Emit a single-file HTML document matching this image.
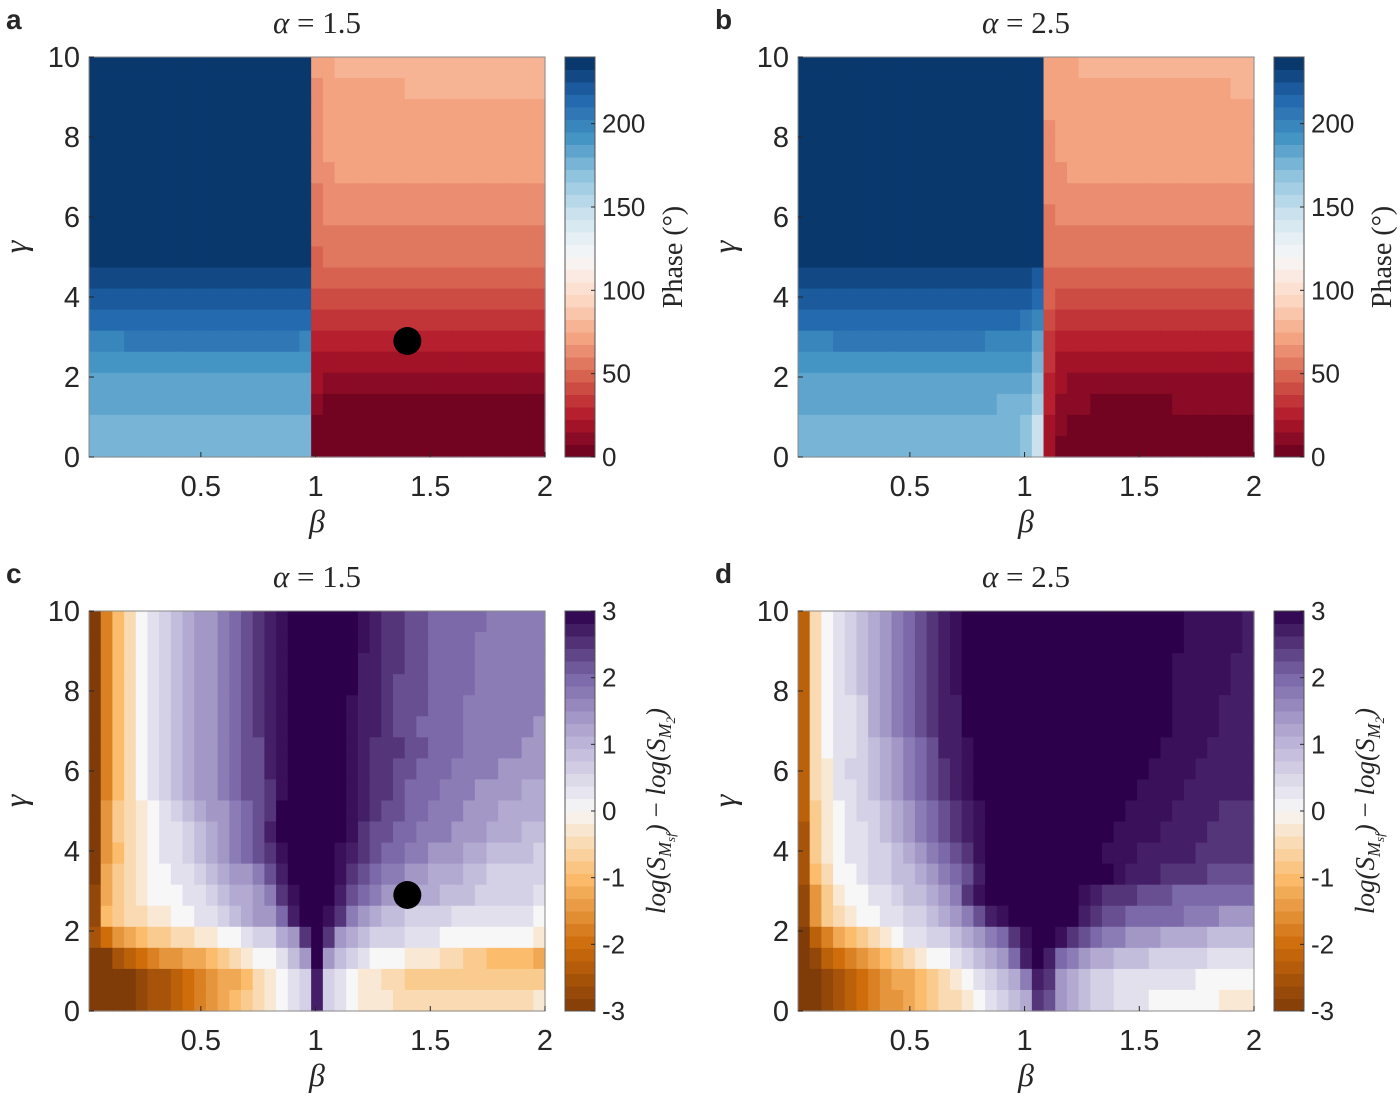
<!DOCTYPE html>
<html><head><meta charset="utf-8">
<style>
html,body{margin:0;padding:0;background:#fff;}
svg{display:block;}
text{font-family:"Liberation Sans",sans-serif;fill:#262626;}
.serif{font-family:"Liberation Serif",serif;}
</style></head>
<body>
<svg id="fig" width="1400" height="1102" viewBox="0 0 1400 1102" xmlns="http://www.w3.org/2000/svg"></svg>
<script>
// ---- data (rows top = gamma 10, bottom = gamma 0; 39 beta columns) ----
const phaseLevels = "0123456789ABCDEFGHIJKLMNOPQRSTUV";
const phaseA = [
"V*19 9*2 A*18","V*19 8*1 9*7 A*12","V*19 8*1 9*19","V*19 8*1 9*19","V*19 8*1 9*19",
"V*19 8*2 9*18","V*19 7*1 8*19","V*19 7*1 8*19","V*19 7*20","V*19 6*1 7*19",
"U*19 6*20","T*19 5*20","S*19 4*20","Q*3 R*15 Q*1 3*20","P*19 2*20",
"O*19 2*1 1*19","O*19 1*1 0*19","N*19 0*20","N*19 0*20"];
const phaseB = [
"V*21 9*3 A*15","V*21 9*16 A*2","V*21 9*18","V*21 8*1 9*17","V*21 8*1 9*17",
"V*21 8*2 9*16","V*21 8*18","V*21 7*1 8*17","V*21 7*18","V*21 7*18",
"U*20 T*1 6*18","T*20 S*1 6*1 5*17","S*19 R*1 Q*1 5*1 4*17","Q*3 R*13 Q*4 O*1 4*1 3*17","P*20 N*1 4*1 2*17",
"O*20 M*1 3*1 2*1 1*16","O*17 N*3 L*1 3*1 1*3 0*7 1*7","N*19 M*1 J*1 2*1 1*1 0*16","N*19 M*1 J*1 2*1 0*17"];
// Ratio panels: each letter is a level, values in ratioLetterValues
const ratioLevels = "ABCDEFGHIJKLMNOPQRSTUVWXY";
const ratioLetterValues = [-3,-2.75,-2.5,-2.25,-2,-1.75,-1.5,-1.25,-1,-0.75,-0.5,-0.25,0,0.35,0.6,0.9,1.15,1.4,1.75,2.0,2.25,2.5,2.7,2.85,3];
const ratioC = [
"AFIKMNOPQRRSTUVWXYYYYYYXWVVUUTTTTTSSSSS",
"AFIKMNOPQRRSTUVWXYYYYYYXWVVUUTTTTSSSSSS",
"AFIKMNOPQRRSTUVWXYYYYYYWWVVUUTTTTSSSSSS",
"AFIKMNOPQRRSTUVWXYYYYYYWWVUUUTTTTSSSSSS",
"AFIKMNOPQRRSTUVWXYYYYYXWWVUUUTTTSSSSSSS",
"AFIKMNOPQRRSTUVWXYYYYYXWWVUUTTTTSSSSSSR",
"AFIKMNOPQRRSTUUWXYYYYYXWVVVUUTTTSSSSSRR",
"AFIKMNOPQRRSTUUWXYYYYYXWVVUUTTTSSSSRRRR",
"AFIKMNOPQRRSTUUVXYYYYYXWVVUTTTSSSRRRRQQ",
"AGJKLMNOPQRRSTUVYYYYYYXWVUUTTSSSRRRQQQQ",
"AGJKLMNNOPQRSTUWYYYYYYXVUUTTSSSRRRQQQPP",
"AGIKLMNNOPQRSTUVXYYYYXWVUTTSSRRRQQPPPPO",
"AHJKLMMNNOPQRRSUWYYYYXVUTSSRRQQQPPOOOOO",
"BHJKLMMMNNOPQQRSVXYYYWUTSRRQQQPPPOOOOON",
"BIJKKLLMMNNOPQRRTWYYXVSRQPPOOOONNNNNNNM",
"CEGHIJJKKLLMMNOOQRVYVRQPOOONNNMMMMMMMML",
"AACDEFGGHHIJKLMMNPRYRPONMMMLLLKKJJIIIIH",
"AAAABCCDEFGHHIKLMNOWONMLLKKJJJJJJJJJJJJ",
"AAAABCCDEFGHIJKLMNOWONMLLLKKKKKKKKKKKKL"];
const ratioD = [
"DKMNOPQRSTUVWXYYYYYYYYYYYYYYYYYYYXXXXXW",
"DKMNOPQRSTUVWXYYYYYYYYYYYYYYYYYYYXXXXXW",
"DKMNOPQRSTUVWXYYYYYYYYYYYYYYYYYYXXXXXWW",
"DKMNOPQRSTUVWXYYYYYYYYYYYYYYYYYYXXXXXWW",
"DKMNNOQRSTUVWWYYYYYYYYYYYYYYYYYYXXXXWWW",
"DKMNNOQRSTUVWWYYYYYYYYYYYYYYYYYYXXXXWWW",
"DKMNNOPQRSTUWWXYYYYYYYYYYYYYYYYXXXXWWWW",
"DKLNOOPQRSTUVWXYYYYYYYYYYYYYYYXXXXWWWWW",
"DKLNNOPQRSTUVWXYYYYYYYYYYYYYYXXXXWWWWWW",
"DJLMNOOPQRSTUVWXYYYYYYYYYYYYXXXXWWWWVVV",
"CJLMNNOPQRSTUVWXYYYYYYYYYYYXXXXWWWWVVVV",
"CJLMNNOOPQRSTUVXYYYYYYYYYYXXXWWWWWVVVVV",
"CIKMMNOOPPQRSTUWYYYYYYYYYYYXWWWVVVVUUUU",
"BGJLMMNNOPPQRSVXYYYYYYYYXWVVVUUUTTTTTT",
"BGJKLMMNNOOPQRSUWXYYYYYYWVUUTTTTTSSSRRR",
"ADFHIJKLMNNOOPQRSTVXYYXVUTSSRRRQQQQPPPP",
"ABDEFGHIJKLMMNOPQRTWYWTSRQQPPPOOOOONNNN",
"AABCDEFGHHIJKLMNOPQSWVRQPOONNNNNNNMMMMM",
"AABCDEFGGHIJKKLMNOPQVURQPOONNNMMMMMMLLL"];
const betaTicks = [0.5, 1, 1.5, 2];
const betaTickLabels = ["0.5", "1", "1.5", "2"];
const gammaTicks = [0, 2, 4, 6, 8, 10];
const phaseTicks = [0, 50, 100, 150, 200];
const ratioTicks = [-3, -2, -1, 0, 1, 2, 3];
const markerBeta = [1.4];
const markerGamma = [2.9];

// ---- helpers ----
const NS = "http://www.w3.org/2000/svg";
const svg = document.getElementById("fig");
function mk(tag, attrs, parent){const e=document.createElementNS(NS,tag);for(const k in attrs)e.setAttribute(k,attrs[k]);(parent||svg).appendChild(e);return e;}
function hex(c){return [parseInt(c.substr(1,2),16),parseInt(c.substr(3,2),16),parseInt(c.substr(5,2),16)];}
function interp(stops,v){
  if(v<=stops[0][0])return stops[0][1];
  for(let i=1;i<stops.length;i++){if(v<=stops[i][0]){const t=(v-stops[i-1][0])/(stops[i][0]-stops[i-1][0]);const a=hex(stops[i-1][1]),b=hex(stops[i][1]);return "rgb("+a.map((x,k)=>Math.round(x+(b[k]-x)*t)).join(",")+")";}}
  return stops[stops.length-1][1];
}
const rdbu=[[0,"#67001f"],[24,"#b2182b"],[48,"#d6604d"],[72,"#f4a582"],[96,"#fddbc7"],[120,"#f7f7f7"],[144,"#d1e5f0"],[168,"#92c5de"],[192,"#4393c3"],[216,"#2166ac"],[240,"#053061"]];
const puor=[[-3,"#7f3b08"],[-2,"#cf6d0b"],[-1,"#fbbc6c"],[0,"#f7f7f7"],[1,"#bdb6d9"],[2,"#7b69a9"],[3,"#2d004b"]];
function decodeRow(s){
  let out=[];
  if(s.indexOf("*")>=0){s.split(" ").forEach(t=>{const p=t.split("*");for(let i=0;i<+p[1];i++)out.push(p[0]);});}
  else out=s.split("");
  while(out.length<39)out.push(out[out.length-1]);
  return out.slice(0,39);
}
function phaseVal(ch){return (phaseLevels.indexOf(ch)+0.5)*7.5;}
function ratioVal(ch){return ratioLetterValues[ratioLevels.indexOf(ch)];}

const W=456,H=400,XMIN=0.0125,XMAX=2,NC=39;
const panels=[
 {letter:"a",x0:89,y0:57,rows:phaseA,kind:"phase",alpha:"1.5",marker:true},
 {letter:"b",x0:798,y0:57,rows:phaseB,kind:"phase",alpha:"2.5",marker:false},
 {letter:"c",x0:89,y0:611,rows:ratioC,kind:"ratio",alpha:"1.5",marker:true},
 {letter:"d",x0:798,y0:611,rows:ratioD,kind:"ratio",alpha:"2.5",marker:false}
];

panels.forEach(p=>{
  const xs=b=>p.x0+(b-XMIN)/(XMAX-XMIN)*W;
  const ys=g=>p.y0+H-g/10*H;
  const g=mk("g",{});
  
  
  const hm=mk("g",{},g);
  
  
  const nr=p.rows.length;
  p.rows.forEach((row,i)=>{
    const cells=decodeRow(row);
    const gTop=10-i*10/nr, gBot=10-(i+1)*10/nr;
    cells.forEach((ch,j)=>{
      const bL=XMIN+j*(XMAX-XMIN)/NC, bR=XMIN+(j+1)*(XMAX-XMIN)/NC;
      const col=p.kind==="phase"?interp(rdbu,phaseVal(ch)):interp(puor,ratioVal(ch));
      const r=mk("rect",{x:xs(bL).toFixed(2),y:ys(gTop).toFixed(2),width:(xs(bR)-xs(bL)+0.6).toFixed(2),height:(ys(gBot)-ys(gTop)+0.6).toFixed(2),fill:col},hm);
      
      
    });
  });
  const box=mk("rect",{x:p.x0,y:p.y0,width:W,height:H,fill:"none",stroke:"#8a8a8a","stroke-width":1},g);
  
  
  betaTicks.forEach((b,k)=>{
    const x=xs(b);
    const t=mk("line",{x1:x,y1:p.y0+H,x2:x,y2:p.y0+H-5,stroke:"#262626","stroke-width":1},g);
    
    
    const lb=mk("text",{x:x,y:p.y0+H+39,"text-anchor":"middle","font-size":29},g);
    lb.textContent=betaTickLabels[k];
    
    
  });
  gammaTicks.forEach(v=>{
    const y=ys(v);
    const t=mk("line",{x1:p.x0,y1:y,x2:p.x0+5,y2:y,stroke:"#262626","stroke-width":1},g);
    
    
    const lb=mk("text",{x:p.x0-9,y:y+10,"text-anchor":"end","font-size":29},g);
    lb.textContent=String(v);
    
    
  });
  const xl=mk("text",{x:p.x0+228,y:p.y0+H+75,"text-anchor":"middle","font-size":32,"font-style":"italic",class:"serif"},g);
  xl.textContent="β";
  
  
  const yl=mk("text",{x:0,y:0,"text-anchor":"middle","font-size":32,"font-style":"italic",class:"serif",transform:"translate("+(p.x0-63)+","+(p.y0+190)+") rotate(-90)"},g);
  yl.textContent="γ";
  
  
  const tt=mk("text",{x:p.x0+228,y:p.y0-24,"text-anchor":"middle","font-size":31,class:"serif"},g);
  const ta=mk("tspan",{"font-style":"italic"},tt);ta.textContent="α";
  const tb=mk("tspan",{},tt);tb.textContent=" = "+p.alpha;
  
  
  const pl=mk("text",{x:p.x0-83,y:p.y0-28,"font-size":28,"font-weight":"bold"},g);
  pl.textContent=p.letter;
  
  
  if(p.marker){
    markerBeta.forEach((b,k)=>{
      const c=mk("circle",{cx:xs(b),cy:ys(markerGamma[k]),r:14,fill:"#000"},g);
      
      
    });
  }
  const cbx=p.x0+476,cbw=30;
  const cb=mk("g",{},g);
  
  
  const nb=32;
  const vmin=p.kind==="phase"?0:-3, vmax=p.kind==="phase"?240:3;
  const cy=v=>p.y0+H-(v-vmin)/(vmax-vmin)*H;
  for(let k=0;k<nb;k++){
    const v0=vmin+k*(vmax-vmin)/nb,v1=vmin+(k+1)*(vmax-vmin)/nb,vc=(v0+v1)/2;
    const col=p.kind==="phase"?interp(rdbu,vc):interp(puor,vc);
    const r=mk("rect",{x:cbx,y:cy(v1).toFixed(2),width:cbw,height:(cy(v0)-cy(v1)+0.5).toFixed(2),fill:col},cb);
    
    
  }
  const cbb=mk("rect",{x:cbx,y:p.y0,width:cbw,height:H,fill:"none",stroke:"#555","stroke-width":1},cb);
  
  
  const ticks=p.kind==="phase"?phaseTicks:ratioTicks;
  ticks.forEach(v=>{
    const y=cy(v);
    const t=mk("line",{x1:cbx+cbw-4,y1:y,x2:cbx+cbw,y2:y,stroke:"#262626"},cb);
    
    
    const lb=mk("text",{x:cbx+37,y:y+9,"font-size":26},cb);
    lb.textContent=String(v);
    
    
  });
  if(p.kind==="phase"){
    const cl=mk("text",{x:0,y:0,"text-anchor":"middle","font-size":28,class:"serif",transform:"translate("+(cbx+117)+","+(p.y0+200)+") rotate(-90)"},cb);
    cl.textContent="Phase (°)";
    
    
  } else {
    const cl=mk("text",{x:0,y:0,"text-anchor":"middle","font-size":27,"font-style":"italic",class:"serif",transform:"translate("+(cbx+100)+","+(p.y0+200)+") rotate(-90)"},cb);
    const s1=mk("tspan",{},cl);s1.textContent="log(S";
    const s2=mk("tspan",{"font-size":18,dy:6},cl);s2.textContent="M";
    const s3=mk("tspan",{"font-size":13,dy:4},cl);s3.textContent="sf";
    const s4=mk("tspan",{dy:-10},cl);s4.textContent=") ";
    const s5=mk("tspan",{"font-style":"normal"},cl);s5.textContent="− ";
    const s6=mk("tspan",{},cl);s6.textContent="log(S";
    const s7=mk("tspan",{"font-size":18,dy:6},cl);s7.textContent="M";
    const s8=mk("tspan",{"font-size":13,dy:4},cl);s8.textContent="2";
    const s9=mk("tspan",{dy:-10},cl);s9.textContent=")";
    
    
  }
});
</script>
</body></html>
